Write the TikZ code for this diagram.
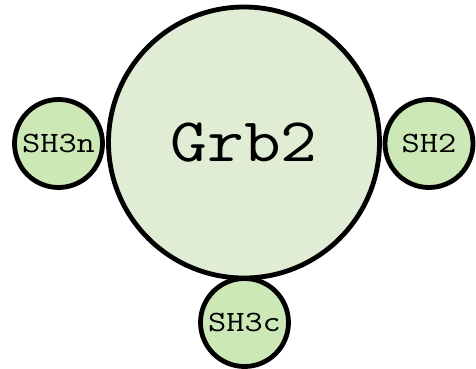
\documentclass[tikz,border=0pt]{standalone}
\usepackage{fontspec}
\newfontfamily\bigtt[FakeStretch=1.15]{Latin Modern Mono}
\newfontfamily\smalltt[FakeStretch=1.2]{Latin Modern Mono}
\definecolor{bigfill}{RGB}{224,236,212}
\definecolor{smallfill}{RGB}{205,232,183}
\begin{document}
\begin{tikzpicture}[x=1pt,y=-1pt,
  dom/.style={circle,draw=black,line width=4.8pt,inner sep=0pt},
  bigdom/.style={dom,fill=bigfill,minimum size=271pt,font=\bigtt\fontsize{62}{62}\selectfont},
  smalldom/.style={dom,fill=smallfill,minimum size=88pt,font=\smalltt\fontsize{29.5}{29.5}\selectfont}]
\useasboundingbox (0,0) rectangle (476,369);
\node[bigdom] (grb2) at (244,142.5) {Grb2};
\node[smalldom] (sh3n) at (58.5,143.5) {SH3n};
\node[smalldom] (sh2) at (429,143.5) {SH2};
\node[smalldom] (sh3c) at (244.5,322.5) {SH3c};
\end{tikzpicture}
\end{document}
